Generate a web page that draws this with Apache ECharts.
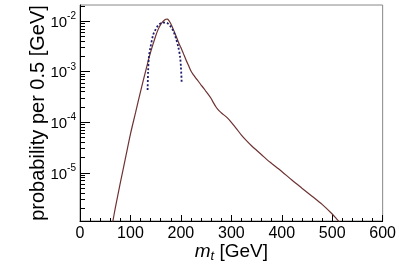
<!DOCTYPE html>
<html>
<head>
<meta charset="utf-8">
<script src="https://cdn.jsdelivr.net/npm/echarts@6/dist/echarts.min.js"></script>
<style>html,body{margin:0;padding:0;background:#fff}#c{width:399px;height:270px}</style>
</head>
<body>
<div id="c"></div>
<script>
// Top-mass distribution (solid)
const massGeV = [60,65,70,80,90,100,110,120,130,140,150,155,160,165,170,173,176,180,185,190,195,200,205,210,215,220,225,230,235,240,245,250,255,260,265,270,275,280,285,290,295,300,310,320,330,340,350,360,370,380,390,400,420,440,460,480,500,510,520];
const probability = [5.6e-7,1.07e-6,2.0e-6,6.3e-6,1.9e-5,5.75e-5,1.51e-4,3.98e-4,1.0e-3,2.40e-3,5.0e-3,6.76e-3,8.5e-3,9.77e-3,1.07e-2,1.08e-2,1.02e-2,8.7e-3,6.76e-3,5.13e-3,3.8e-3,2.95e-3,2.24e-3,1.70e-3,1.32e-3,1.02e-3,8.5e-4,7.24e-4,6.3e-4,5.37e-4,4.68e-4,3.98e-4,3.43e-4,2.9e-4,2.35e-4,1.95e-4,1.69e-4,1.52e-4,1.38e-4,1.26e-4,1.12e-4,9.8e-5,7.4e-5,5.5e-5,4.27e-5,3.39e-5,2.75e-5,2.24e-5,1.82e-5,1.51e-5,1.26e-5,1.05e-5,7.1e-6,4.9e-6,3.4e-6,2.34e-6,1.51e-6,1.17e-6,9.1e-7];
// Peak fit (dotted)
const fitGeV = [134,135,136.5,139,145,150,155,160,165,170,175,180,185,190,195,198.5,200,201.5];
const fitProb = [4.27e-4,1.0e-3,1.9e-3,2.75e-3,5.25e-3,6.76e-3,8.1e-3,8.9e-3,9.2e-3,9.2e-3,8.7e-3,7.6e-3,6.3e-3,4.57e-3,3.0e-3,1.9e-3,1.26e-3,6.2e-4];
// Axis ticks
const xMin = 0, xMax = 600, xStep = 100;
const yMin = 1.1e-6, yMax = 2.05e-2;
const yMajorTicks = [1e-5,1e-4,1e-3,1e-2];
const yMinorMultipliers = [2,3,4,5,6,7,8,9];
const yDecades = [1e-6,1e-5,1e-4,1e-3,1e-2];

const yMinorTicks = [];
yDecades.forEach(function(d){ yMinorMultipliers.forEach(function(k){ const v = k*d; if (v>yMin && v<yMax) yMinorTicks.push(v); }); });

const FONT = "'Liberation Sans', Arial, Helvetica, sans-serif";
const chart = echarts.init(document.getElementById('c'), null, {renderer:'canvas'});

// y-axis tick marks drawn through the log axis scale
function tickSeries(vals, len){
  return {
    type:'custom', yAxisIndex:0, silent:true, clip:false, z:5,
    encode:{x:0, y:1},
    data: vals.map(function(v){ return [xMin, v]; }),
    renderItem:function(params, api){
      const p = api.coord([xMin, api.value(1)]);
      const y = Math.round(p[1]) + 0.5;
      const x = Math.round(p[0]);
      return {type:'line', shape:{x1:x, y1:y, x2:x+len, y2:y}, style:{stroke:'#000', lineWidth:1}};
    }
  };
}

chart.setOption({
  animation:false,
  backgroundColor:'#fff',
  grid:{left:80, right:16, top:5, bottom:49, show:true, borderColor:'#888', borderWidth:1, backgroundColor:'transparent'},
  xAxis:{
    type:'value', min:xMin, max:xMax, interval:xStep,
    name:'{i|m}{sub|t} [GeV]', nameLocation:'middle', nameGap:20, nameMoveOverlap:false,
    nameTextStyle:{fontFamily:FONT, fontSize:19, color:'#000', lineHeight:22,
      rich:{i:{fontFamily:FONT, fontSize:19, fontStyle:'italic', color:'#000', lineHeight:22},
            sub:{fontFamily:FONT, fontSize:13, fontStyle:'italic', color:'#000', lineHeight:11, verticalAlign:'bottom'}}},
    axisLine:{lineStyle:{color:'#000', width:1}},
    axisTick:{inside:true, length:6, lineStyle:{color:'#000'}},
    minorTick:{show:true, splitNumber:5, length:3, lineStyle:{color:'#000'}},
    axisLabel:{fontFamily:FONT, fontSize:16, color:'#000', margin:5},
    splitLine:{show:false}
  },
  yAxis:{
    type:'log', min:yMin, max:yMax, position:'left',
    name:'probability per 0.5 [GeV]', nameLocation:'middle', nameGap:32, nameMoveOverlap:false,
    nameTextStyle:{fontFamily:FONT, fontSize:20, color:'#000'},
    axisLine:{show:true, lineStyle:{color:'#000', width:1}},
    axisTick:{show:false},
    axisLabel:{customValues:yMajorTicks, margin:4, fontFamily:FONT, color:'#000',
      formatter:function(v){ return '{b|10}{s|' + Math.round(Math.log10(v)) + '}'; },
      rich:{b:{fontFamily:FONT, fontSize:15, color:'#000', lineHeight:19, padding:[4,0,0,0]},
            s:{fontFamily:FONT, fontSize:10, color:'#000', lineHeight:11, verticalAlign:'top'}}},
    splitLine:{show:false}
  },
  series:[{
    type:'line', yAxisIndex:0, showSymbol:false, smooth:0.3, clip:true,
    lineStyle:{color:'#6e3232', width:1.2},
    data: massGeV.map(function(x,i){return [x, probability[i]];})
  },{
    type:'line', yAxisIndex:0, showSymbol:false, smooth:0.3, clip:true,
    lineStyle:{color:'#1e1e6e', width:1.8, type:[2,2]},
    data: fitGeV.map(function(x,i){return [x, fitProb[i]];})
  },
  tickSeries(yMajorTicks, 10),
  tickSeries(yMinorTicks, 5)]
});
</script>
</body>
</html>
